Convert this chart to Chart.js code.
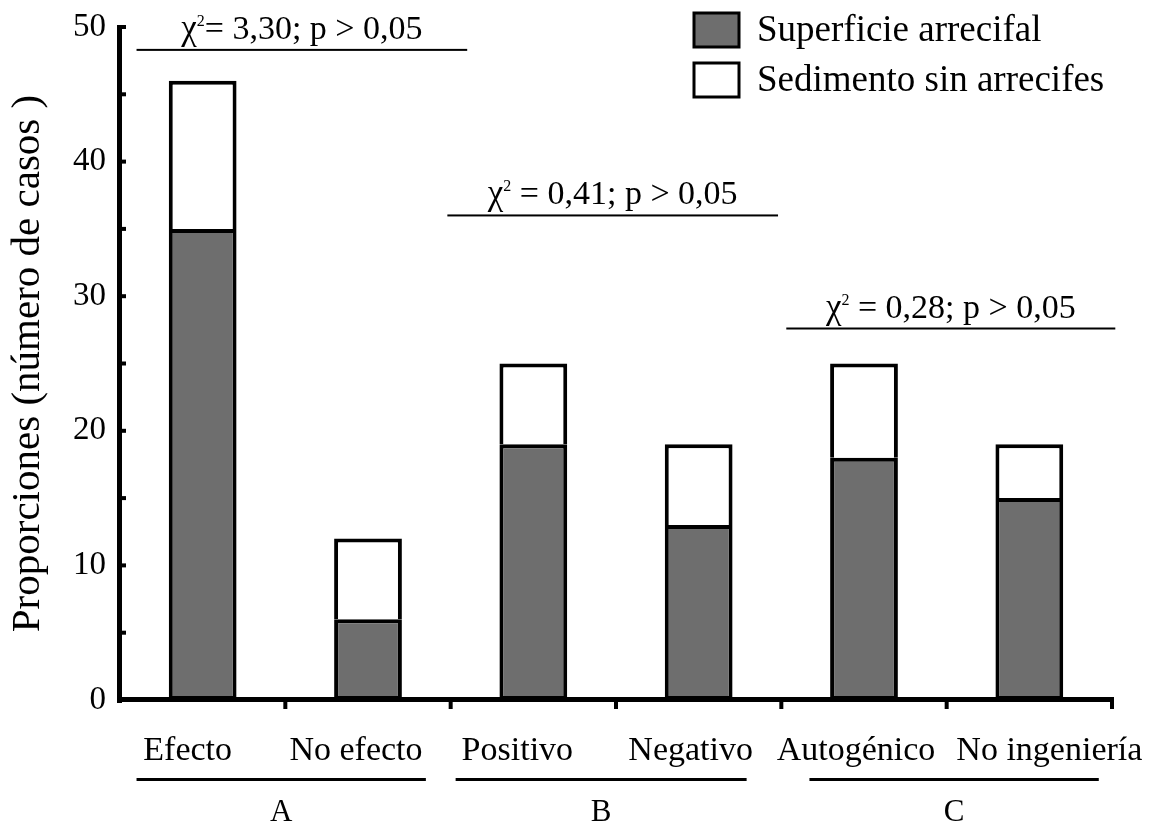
<!DOCTYPE html>
<html lang="es">
<head>
    <meta charset="UTF-8">
    <script src="https://cdn.jsdelivr.net/npm/chart.js"></script>
    <title>Proporciones</title>
    <style>
        body { margin: 0; background: #fff; }
        .chart-container { width: 1155px; height: 826px; }
    </style>
</head>
<body>
    <div class="chart-container">
        <canvas id="myChart"></canvas>
    </div>

    <script>
        // data
        const categories = ['Efecto', 'No efecto', 'Positivo', 'Negativo', 'Autogénico', 'No ingeniería'];
        const superficie = [35, 6, 19, 13, 18, 15];      // Superficie arrecifal
        const sedimento  = [11, 6, 6, 6, 7, 4];          // Sedimento sin arrecifes (stacked on top)
        const groupLetters = ['A', 'B', 'C'];
        const chiTexts = ['= 3,30; p > 0,05', ' = 0,41; p > 0,05', ' = 0,28; p > 0,05'];
        const chiLevels = [48.3, 36, 27.6];              // y value of the line above each pair

        const serif = "'Liberation Serif', 'Times New Roman', serif";
        const darkFill = '#6e6e6e';

        // spans in category units (0 = left edge of first slot)
        const chiSpans = [[0.1, 2.1], [1.98, 3.98], [4.03, 6.02]];
        const groupSpans = [[0.1, 1.85], [2.03, 3.79], [4.17, 5.92]];
        // small horizontal shifts of the category labels, as in the figure
        const labelShift = [-15, -12, -16, -8, -8, 20];

        const axesPlugin = {
            id: 'axesPlugin',
            afterDatasetsDraw(chart) {
                const ctx = chart.ctx;
                const x = chart.scales.x, y = chart.scales.y;
                const area = chart.chartArea;
                const slot = x.getPixelForValue(1) - x.getPixelForValue(0);
                const ux = u => x.getPixelForValue(0) - slot / 2 + u * slot;

                ctx.save();
                ctx.fillStyle = '#000';
                // y axis and inward ticks every 5
                ctx.fillRect(area.left - 3, y.getPixelForValue(50) - 2, 5, area.bottom - y.getPixelForValue(50) + 5);
                for (let v = 5; v <= 50; v += 5) {
                    ctx.fillRect(area.left, y.getPixelForValue(v) - 2, 6, 4);
                }
                // x axis and downward ticks between categories
                ctx.fillRect(area.left - 3, area.bottom - 3, area.right - area.left + 5, 5);
                for (let i = 1; i <= categories.length; i++) {
                    ctx.fillRect(ux(i) - 2, area.bottom, 4, 9);
                }

                // category labels
                ctx.font = '34px ' + serif;
                ctx.textAlign = 'center';
                ctx.textBaseline = 'alphabetic';
                categories.forEach((c, i) => {
                    ctx.fillText(c, x.getPixelForValue(i) + labelShift[i], 760);
                });

                // chi-square annotations
                chiTexts.forEach((t, i) => {
                    const py = y.getPixelForValue(chiLevels[i]);
                    const x0 = ux(chiSpans[i][0]), x1 = ux(chiSpans[i][1]);
                    ctx.fillRect(x0, py - 1, x1 - x0, 2);
                    ctx.font = '35px ' + serif;
                    const wChi = ctx.measureText('\u03C7').width;
                    ctx.font = '16px ' + serif;
                    const wSup = ctx.measureText('2').width;
                    ctx.font = '34px ' + serif;
                    const wRest = ctx.measureText(t).width;
                    const sx = (x0 + x1) / 2 - (wChi + wSup + wRest) / 2;
                    const base = py - 11;
                    ctx.textAlign = 'left';
                    ctx.textBaseline = 'alphabetic';
                    ctx.font = '35px ' + serif;
                    ctx.fillText('\u03C7', sx, base);
                    ctx.font = '16px ' + serif;
                    ctx.fillText('2', sx + wChi, base - 13);
                    ctx.font = '34px ' + serif;
                    ctx.fillText(t, sx + wChi + wSup, base);
                });

                // group underlines and letters
                groupLetters.forEach((g, i) => {
                    const x0 = ux(groupSpans[i][0]), x1 = ux(groupSpans[i][1]);
                    ctx.fillRect(x0, 778, x1 - x0, 3);
                    ctx.font = '31px ' + serif;
                    ctx.textAlign = 'center';
                    ctx.textBaseline = 'alphabetic';
                    ctx.fillText(g, (x0 + x1) / 2, 821);
                });

                // legend
                chart.data.datasets.forEach((ds, i) => {
                    const by = 13 + i * 50;
                    ctx.fillStyle = ds.backgroundColor;
                    ctx.fillRect(694, by, 45, 34);
                    ctx.strokeStyle = '#000';
                    ctx.lineWidth = 3;
                    ctx.strokeRect(694, by, 45, 34);
                    ctx.fillStyle = '#000';
                    ctx.font = '37px ' + serif;
                    ctx.textAlign = 'left';
                    ctx.textBaseline = 'alphabetic';
                    ctx.fillText(ds.label, 757, by + 28);
                });
                ctx.restore();
            }
        };

        const ctx = document.getElementById('myChart').getContext('2d');
        new Chart(ctx, {
            type: 'bar',
            data: {
                labels: categories,
                datasets: [
                    {
                        label: 'Superficie arrecifal',
                        data: superficie,
                        backgroundColor: darkFill,
                        borderColor: '#000',
                        borderWidth: 4,
                        borderSkipped: false
                    },
                    {
                        label: 'Sedimento sin arrecifes',
                        data: sedimento,
                        backgroundColor: '#ffffff',
                        borderColor: '#000',
                        borderWidth: 4,
                        borderSkipped: 'bottom'
                    }
                ]
            },
            options: {
                responsive: true,
                maintainAspectRatio: false,
                animation: false,
                layout: { padding: { left: 0, top: 27, right: 43, bottom: 0 } },
                datasets: { bar: { barPercentage: 0.41, categoryPercentage: 1.0 } },
                plugins: {
                    legend: { display: false },
                    tooltip: { enabled: false }
                },
                scales: {
                    x: {
                        stacked: true,
                        grid: { display: false },
                        border: { display: false },
                        ticks: { display: false },
                        afterFit(scale) { scale.height = 126; }
                    },
                    y: {
                        stacked: true,
                        min: 0,
                        max: 50,
                        grid: { display: false },
                        border: { display: false },
                        ticks: {
                            stepSize: 5,
                            color: '#000',
                            font: { family: serif, size: 33 },
                            padding: 6,
                            callback: v => (v % 10 === 0 ? v : '')
                        },
                        title: {
                            display: true,
                            text: 'Proporciones (número de casos )',
                            color: '#000',
                            font: { family: serif, size: 41 },
                            padding: { top: 4, bottom: 0 }
                        },
                        afterFit(scale) { scale.width = 120; }
                    }
                }
            },
            plugins: [axesPlugin]
        });
    </script>
</body>
</html>
